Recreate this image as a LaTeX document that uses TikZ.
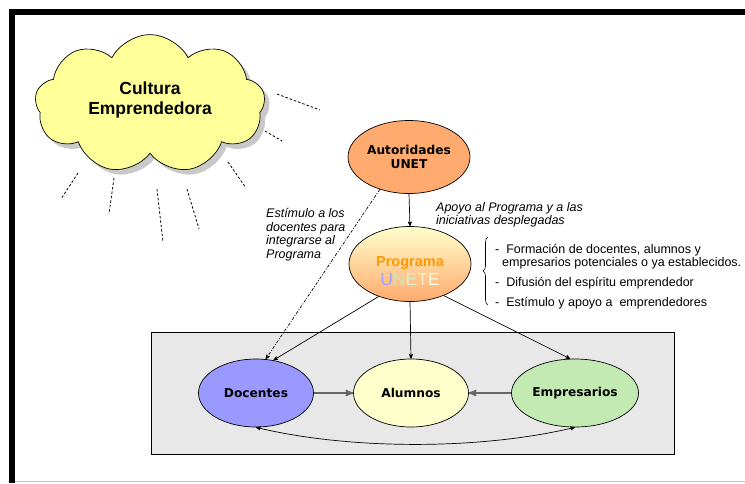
\documentclass[tikz,border=0pt]{standalone}
\usepackage{fontspec}
\setmainfont{Liberation Sans}
\newfontfamily\labelfont{DejaVu Sans}
\usetikzlibrary{shapes}
\usetikzlibrary{arrows}
\usetikzlibrary{shadows}
\usetikzlibrary{decorations.pathreplacing}
\definecolor{cloudyellow}{HTML}{FFFF99}
\definecolor{autorange}{HTML}{FFAA6E}
\definecolor{progtop}{HTML}{FFFFCC}
\definecolor{progtext}{HTML}{FF9900}
\definecolor{docblue}{HTML}{9999FF}
\definecolor{aluyellow}{HTML}{FFFFCC}
\definecolor{empgreen}{HTML}{C4EAB4}
\definecolor{boxgray}{HTML}{E8E8E8}
\definecolor{uneteU}{HTML}{A0A0FF}
\definecolor{uneteN}{HTML}{C4E8C0}
\definecolor{uneteE}{HTML}{D4F0CC}
\definecolor{uneteT}{HTML}{EEF2D0}
\definecolor{uneteF}{HTML}{FAFAE6}
\tikzset{
	basenode/.style = {
		align=center,
		inner sep=0pt,
		text centered,
		font=\labelfont\bfseries\fontsize{12.2}{14}\selectfont,
		ellipse,
		draw=black,
		line width=0.7pt
	},
	node_aut/.style = {
		basenode,
		fill=autorange,
		minimum width=122pt,
		minimum height=73pt
	},
	node_prog/.style = {
		basenode,
		font=\bfseries\fontsize{14.5}{16}\selectfont,
		top color=progtop,
		bottom color=autorange,
		minimum width=122pt,
		minimum height=75pt
	},
	node_grp/.style = {
		basenode,
		minimum width=115pt,
		minimum height=68pt
	},
	node_cloud/.style = {
		cloud,
		cloud puffs=9,
		cloud puff arc=125,
		aspect=1.6,
		align=center,
		inner sep=0pt,
		draw=black,
		line width=0.7pt,
		fill=cloudyellow,
		font=\bfseries\fontsize{17.5}{20}\selectfont,
		minimum width=230pt,
		minimum height=138pt,
		drop shadow={shadow xshift=5pt, shadow yshift=-5pt, fill=gray!85}
	},
	notes/.style = {
		align=left,
		inner sep=0pt,
		font=\itshape\fontsize{12.5}{13.7}\selectfont
	},
	bullets/.style = {
		align=left,
		inner sep=0pt,
		font=\fontsize{12.5}{13}\selectfont
	},
	link/.style = {
		->,
		line width=0.7pt
	},
	link_gray/.style = {
		->,
		draw=black!60,
		line width=1.6pt
	},
	link_dashdot/.style = {
		->,
		line width=0.7pt,
		dash pattern=on 3pt off 1.5pt on 1pt off 1.5pt
	},
	ray/.style = {
		line width=0.8pt,
		dash pattern=on 2.5pt off 2pt
	}
}

\begin{document}
\begin{tikzpicture}[x=1pt, y=-1pt, >=stealth']
\useasboundingbox (0,0) rectangle (745,483);
\draw [line width=5.5pt] (745,12) -- (11.75,12) -- (11.75,483);
\draw [black!25, line width=1.2pt] (14.5,481.5) -- (745,481.5);
\draw [fill=boxgray, line width=0.8pt] (151,332) rectangle (674,454);

\node [node_cloud] (cultura) at (150,104) {Cultura\\Emprendedora\rule[-12pt]{0pt}{0pt}};
\draw [ray] (277,94) -- (320,110) (265,131) -- (282,141) (228,162) -- (246,188)
	(187,189) -- (199,229) (157,189) -- (163,242) (114,178) -- (109,214)
	(78,173) -- (61,199);

\node [node_aut] (aut) at (409,157) {Autoridades\\UNET};
\node [node_prog] (prog) at (410,264) {\rule{0pt}{24pt}\textcolor{progtext}{Programa}\\[3pt]
	{\mdseries\fontsize{17.5}{18}\selectfont\textcolor{uneteU}{U}\textcolor{uneteN}{N}\textcolor{uneteE}{E}\textcolor{uneteT}{T}\textcolor{uneteF}{E}}};
\node [node_grp, fill=docblue] (doc) at (256,393) {Docentes};
\node [node_grp, fill=aluyellow] (alu) at (411,393) {Alumnos};
\node [node_grp, fill=empgreen, minimum width=127pt] (emp) at (575,393) {Empresarios};

\node [notes, anchor=north west] (estimulo) at (266,208) {Estímulo a los\\docentes para\\integrarse al\\Programa};
\node [notes, anchor=north west] (apoyo) at (436,202) {Apoyo al Programa y a las\\iniciativas desplegadas};
\node [bullets, anchor=north west] (lista) at (495,244.5) {-\ \ Formación de docentes, alumnos y\\\hspace*{7pt}empresarios potenciales o ya establecidos.\\[7pt]-\ \ Difusión del espíritu emprendedor\\[7pt]-\ \ Estímulo y apoyo a\ \ emprendedores};
\draw [decorate, decoration={brace, amplitude=5pt}, line width=0.6pt] (488,305) -- (488,237);

\draw [link] (aut.south) -- (prog.north);
\draw [link_dashdot] (aut.228) -- (doc.74);
\draw [link] (prog.226) -- (doc.62);
\draw [link] (prog.south) -- (alu.north);
\draw [link] (prog.317) -- (emp.98);
\draw [link_gray] (doc.east) -- (alu.west);
\draw [link_gray] (emp.west) -- (alu.east);
\draw [<->, line width=0.7pt] (doc.south) .. controls (350,450) and (480,450) .. (emp.south);
\end{tikzpicture}
\end{document}
